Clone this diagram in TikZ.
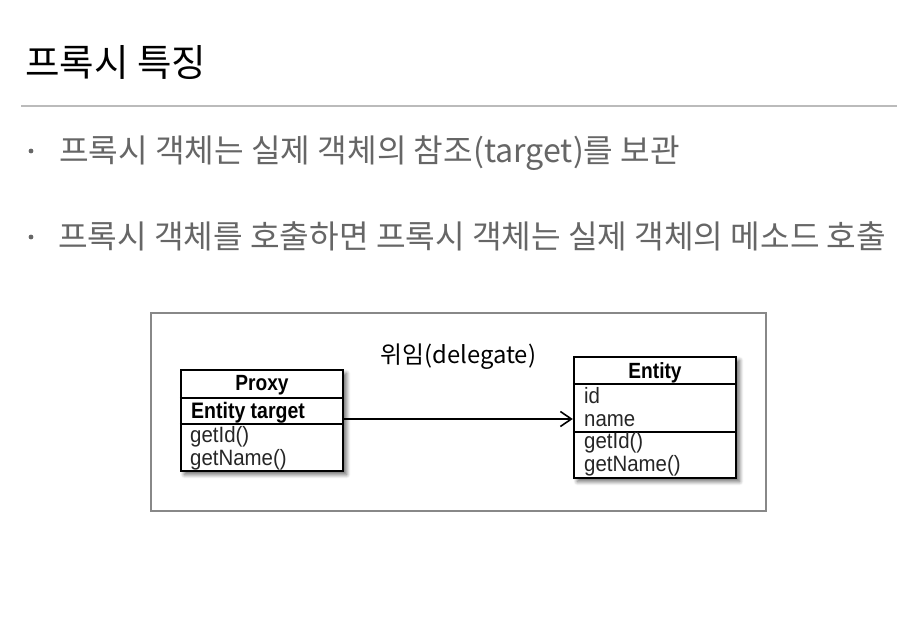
\documentclass[tikz,border=0pt]{standalone}
\usepackage{fontspec}
\setmainfont{Noto Sans CJK KR}
\newfontfamily\umlfont[FakeStretch=0.87]{Liberation Sans}
\newfontfamily\umlmemberfont[FakeStretch=0.92]{Liberation Sans}
\usetikzlibrary{shadows.blur,arrows.meta}
\definecolor{bullettext}{HTML}{666666}
\definecolor{rulegray}{HTML}{BBBBBB}
\definecolor{framegray}{HTML}{888888}
\begin{document}
\begin{tikzpicture}[x=1pt,y=-1pt,
  umlbox/.style={draw=black, line width=2.4pt, fill=white, inner sep=0pt, minimum width=162pt,
    blur shadow={shadow xshift=3.5pt, shadow yshift=-3.5pt, shadow blur steps=8, shadow blur radius=4pt, shadow opacity=60}},
  divider/.style={line width=2pt, black},
  headtext/.style={anchor=base, inner sep=0pt, font=\umlfont\fontsize{22}{24}\selectfont\bfseries},
  attrbold/.style={anchor=base west, inner sep=0pt, font=\umlfont\fontsize{22.4}{24}\selectfont\bfseries},
  membertext/.style={anchor=base west, inner sep=0pt, text height=13pt, text depth=3pt, text=black!85, font=\umlmemberfont\fontsize{22.2}{24}\selectfont},
  bullettxt/.style={anchor=base west, inner sep=0pt, text=bullettext, font=\fontsize{32.2}{34}\selectfont},
]
\useasboundingbox (0,0) rectangle (918,618);
% title
\node[anchor=base west, inner sep=0pt, font=\fontsize{37.5}{40}\selectfont] (title) at (25,77) {프록시 특징};
\draw[rulegray, line width=1.3pt] (21,106) -- (897,106);
% bullets
\fill[bullettext] (31,151) circle (2.4pt);
\node[bullettxt] (b1) at (59,162) {프록시 객체는 실제 객체의 참조(target)를 보관};
\fill[bullettext] (31,237) circle (2.4pt);
\node[bullettxt] (b2) at (58,248) {프록시 객체를 호출하면 프록시 객체는 실제 객체의 메소드 호출};
% frame
\node[draw=framegray, line width=1.3pt, minimum width=615pt, minimum height=198pt, inner sep=0pt] (frame) at (458.5,412) {};
% boxes
\node[umlbox, minimum height=101pt] (proxy) at (262,420.5) {};
\node[umlbox, minimum height=121pt] (entity) at (655,417.5) {};
\draw[divider] (proxy.west |- 0,398) -- (proxy.east |- 0,398);
\draw[divider] (proxy.west |- 0,424) -- (proxy.east |- 0,424);
\draw[divider] (entity.west |- 0,384) -- (entity.east |- 0,384);
\draw[divider] (entity.west |- 0,432) -- (entity.east |- 0,432);
% proxy texts
\node[headtext] (ptitle) at (262,390) {Proxy};
\node[attrbold] (ptarget) at (191,418) {Entity target};
\node[membertext] (pgetid) at (190,442) {getId()};
\node[membertext] (pgetname) at (190,465) {getName()};
% entity texts
\node[headtext] (etitle) at (655,378) {Entity};
\node[membertext] (eid) at (584,403) {id};
\node[membertext] (ename) at (584,426) {name};
\node[membertext] (egetid) at (584,448) {getId()};
\node[membertext] (egetname) at (584,471) {getName()};
% arrow
\draw[line width=1.8pt, -{Straight Barb[length=11pt,width=15pt,line width=1.6pt]}] (proxy.east |- 0,419) -- (entity.west |- 0,419);
\node[anchor=base, inner sep=0pt, font=\fontsize{23.8}{26}\selectfont] (delegate) at (458.5,363) {위임(delegate)};
\end{tikzpicture}
\end{document}
